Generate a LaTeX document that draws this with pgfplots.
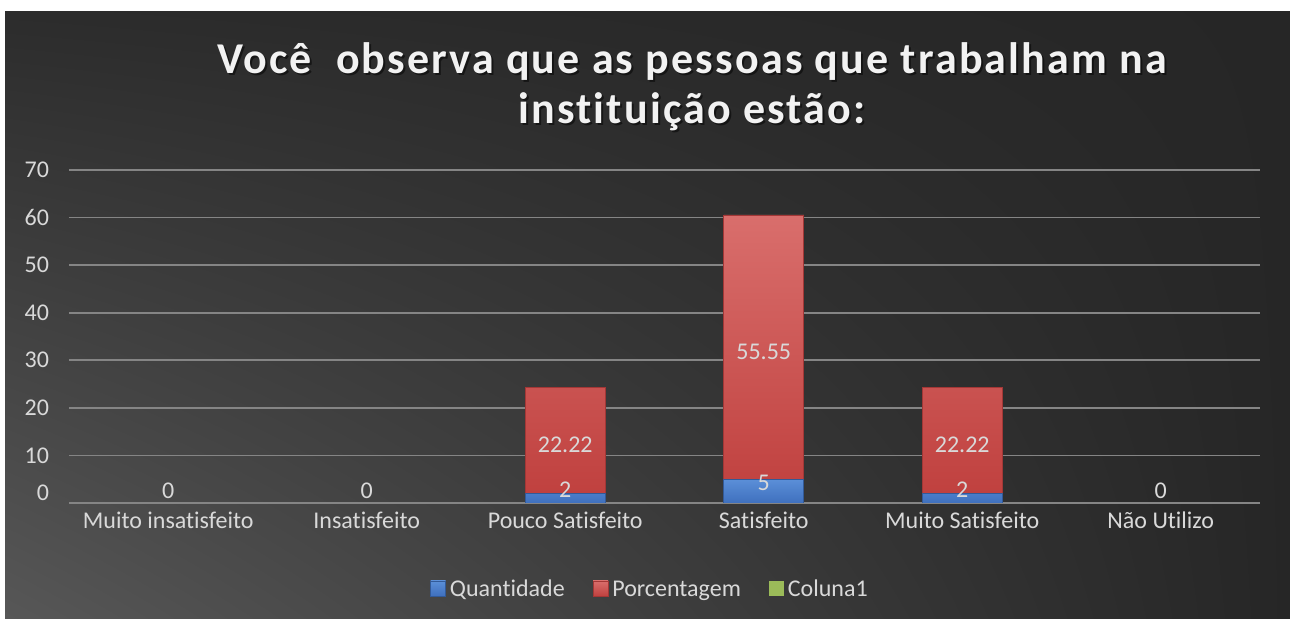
\documentclass[border=0pt]{standalone}
\usepackage{pgfplots}
\pgfplotsset{compat=1.18}
\usetikzlibrary{shadings}
\usepackage{fontspec}
\setmainfont{Carlito}[Ligatures=NoCommon]
\newfontfamily\titlefont{Carlito}[LetterSpace=5, Ligatures=NoCommon]

\definecolor{bgdark}{HTML}{262626}
\definecolor{bgul}{HTML}{2C2C2C}
\definecolor{bgll}{HTML}{575757}
\definecolor{gridgray}{HTML}{858585}
\definecolor{txtgray}{HTML}{D9D9D9}
\definecolor{bluetop}{HTML}{5B8FD8}
\definecolor{bluebot}{HTML}{3F70BE}
\definecolor{redtop}{HTML}{D96E6C}
\definecolor{redbot}{HTML}{C0413F}
\definecolor{greenc}{HTML}{9BBB59}

\tikzset{lbl/.style={text=txtgray, font=\fontsize{12}{14}\selectfont}}

\begin{document}
\begin{tikzpicture}[x=1pt,y=1pt]
  % page and dark panel (1px = 0.5pt)
  \fill[white] (0,0) rectangle (645,309.5);
  \shade[lower left=bgll, upper left=bgul, lower right=bgdark, upper right=bgdark]
    (2.5,0) rectangle (645,303.5);

  % title with soft shadow
  \node[text=black, opacity=0.5, font=\titlefont\bfseries\fontsize{22}{26}\selectfont]
    at (347,277.5) {Você~ observa que as pessoas que trabalham na};
  \node[text=black, opacity=0.5, font=\titlefont\bfseries\fontsize{22}{26}\selectfont]
    at (347,252.5) {instituição estão:};
  \node[text=white!95!black, font=\titlefont\bfseries\fontsize{22}{26}\selectfont]
    at (346,278.5) {Você~ observa que as pessoas que trabalham na};
  \node[text=white!95!black, font=\titlefont\bfseries\fontsize{22}{26}\selectfont]
    at (346,253.5) {instituição estão:};

  \begin{axis}[
    at={(34.5pt,58pt)}, anchor=south west,
    scale only axis, width=595.5pt, height=166.5pt,
    xmin=-0.5, xmax=5.5, ymin=0, ymax=70,
    ybar stacked, bar width=40pt,
    axis line style={draw=none},
    major tick length=0pt,
    ymajorgrids, grid style={color=gridgray, line width=0.8pt},
    ytick={10,20,...,70},
    extra y ticks={0},
    extra y tick style={yticklabel style={yshift=5pt}},
    xtick={0,1,2,3,4,5},
    xticklabels={Muito insatisfeito, Insatisfeito, Pouco Satisfeito, Satisfeito, Muito Satisfeito, Não Utilizo},
    tick label style={text=txtgray, font=\fontsize{12}{14}\selectfont},
    /pgf/number format/assume math mode=true,
    yticklabel style={xshift=-6.5pt},
    xticklabel style={yshift=-1pt},
    legend style={at={(0.4887,-0.261)}, anchor=center, draw=none, fill=none,
      legend columns=3, text=txtgray, font=\fontsize{12}{14}\selectfont,
      /tikz/every even column/.append style={column sep=12pt}},
    legend image code/.code={\fill[#1] (0pt,-3pt) rectangle (7.5pt,4.5pt);},
  ]
    \addplot[draw=bluebot!80!black, line width=0.3pt, top color=bluetop, bottom color=bluebot]
      coordinates {(0,0) (1,0) (2,2) (3,5) (4,2) (5,0)};
    \addlegendentry{Quantidade}
    \addplot[draw=redbot!85!black, line width=0.3pt, top color=redtop, bottom color=redbot]
      coordinates {(0,0) (1,0) (2,22.22) (3,55.55) (4,22.22) (5,0)};
    \addlegendentry{Porcentagem}
    \addplot[draw=none, fill=greenc]
      coordinates {(0,0) (1,0) (2,0) (3,0) (4,0) (5,0)};
    \addlegendentry{Coluna1}

    % anchors for the data labels, drawn after the axis so they sit on the bars
    \coordinate (z0) at (axis cs:0,2.5);
    \coordinate (z1) at (axis cs:1,2.5);
    \coordinate (z5) at (axis cs:5,2.5);
    \coordinate (q2) at (axis cs:2,2.7);
    \coordinate (q4) at (axis cs:4,2.7);
    \coordinate (q3) at (axis cs:3,4.3);
    \coordinate (p2) at (axis cs:2,12.2);
    \coordinate (p4) at (axis cs:4,12.2);
    \coordinate (p3) at (axis cs:3,31.8);
  \end{axis}

  \node[lbl] at (z0) {0};
  \node[lbl] at (z1) {0};
  \node[lbl] at (z5) {0};
  \node[lbl] at (q2) {2};
  \node[lbl] at (q4) {2};
  \node[lbl] at (q3) {5};
  \node[lbl] at (p2) {22.22};
  \node[lbl] at (p4) {22.22};
  \node[lbl] at (p3) {55.55};
\end{tikzpicture}
\end{document}
